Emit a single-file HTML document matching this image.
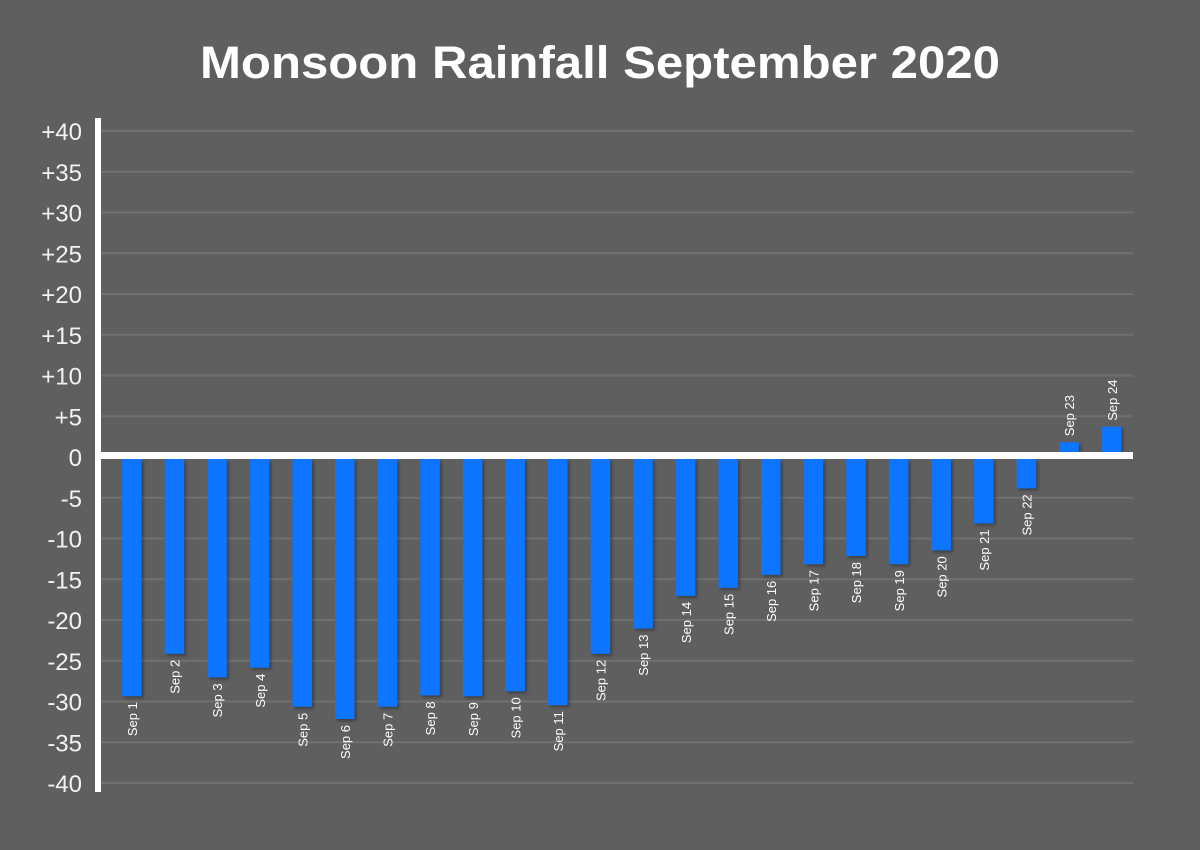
<!DOCTYPE html>
<html><head><meta charset="utf-8"><style>html,body{margin:0;padding:0;background:#5f5f5f;}svg{display:block}</style></head>
<body>
<svg width="1200" height="850" xmlns="http://www.w3.org/2000/svg" font-family="Liberation Sans, sans-serif">
<defs><filter id="sh" x="-20%" y="-5%" width="150%" height="115%"><feDropShadow dx="2" dy="2" stdDeviation="1.5" flood-color="#000" flood-opacity="0.35"/></filter></defs>
<rect width="1200" height="850" fill="#5f5f5f"/>
<text x="600" y="78" text-anchor="middle" font-size="45" font-weight="bold" fill="#fff" textLength="800" lengthAdjust="spacingAndGlyphs">Monsoon Rainfall September 2020</text>
<g id="grid" stroke="#707070" stroke-width="2"></g>
<g id="ylab" fill="#f2f2f2" font-size="24" text-anchor="end"></g>
<g id="bars"></g>
<rect x="95" y="118" width="6" height="674" fill="#fff"/>
<rect x="95" y="452" width="1038" height="7" fill="#fff"/>
<script>
var ns="http://www.w3.org/2000/svg";
function el(t,a,p,txt){var e=document.createElementNS(ns,t);for(var k in a)e.setAttribute(k,a[k]);if(txt!=null)e.textContent=txt;document.getElementById(p).appendChild(e);return e;}
var z=457,s=8.15;
for(var v=40;v>=-40;v-=5){var y=z-v*s;
 if(v!=0)el('line',{x1:101,x2:1133,y1:y,y2:y},'grid');
 el('text',{x:82,y:y+9},'ylab',(v>0?'+':'')+v);}
var vals=[-29.1,-23.9,-26.8,-25.6,-30.4,-31.9,-30.4,-29,-29.1,-28.5,-30.2,-23.9,-20.8,-16.8,-15.8,-14.2,-12.9,-11.9,-12.9,-11.2,-7.9,-3.6,1.2,3.1];
for(var i=0;i<24;i++){var x=122+i*42.6,v=vals[i],cx=x+10;
 if(v<0){var b=459-v*s;
  el('rect',{x:x,y:459,width:19.5,height:b-459,fill:'#0a74ff',filter:'url(#sh)'},'bars');
  el('text',{transform:'translate('+(cx+5)+','+(b+6)+') rotate(-90)','text-anchor':'end','font-size':'13',fill:'#fff'},'bars','Sep '+(i+1));
 } else {var t=452-v*s;
  el('rect',{x:x,y:t,width:19.5,height:452-t,fill:'#0a74ff',filter:'url(#sh)'},'bars');
  el('text',{transform:'translate('+(cx+5)+','+(t-6)+') rotate(-90)','text-anchor':'start','font-size':'13',fill:'#fff'},'bars','Sep '+(i+1));
 }}
</script>
</svg>
</body></html>
